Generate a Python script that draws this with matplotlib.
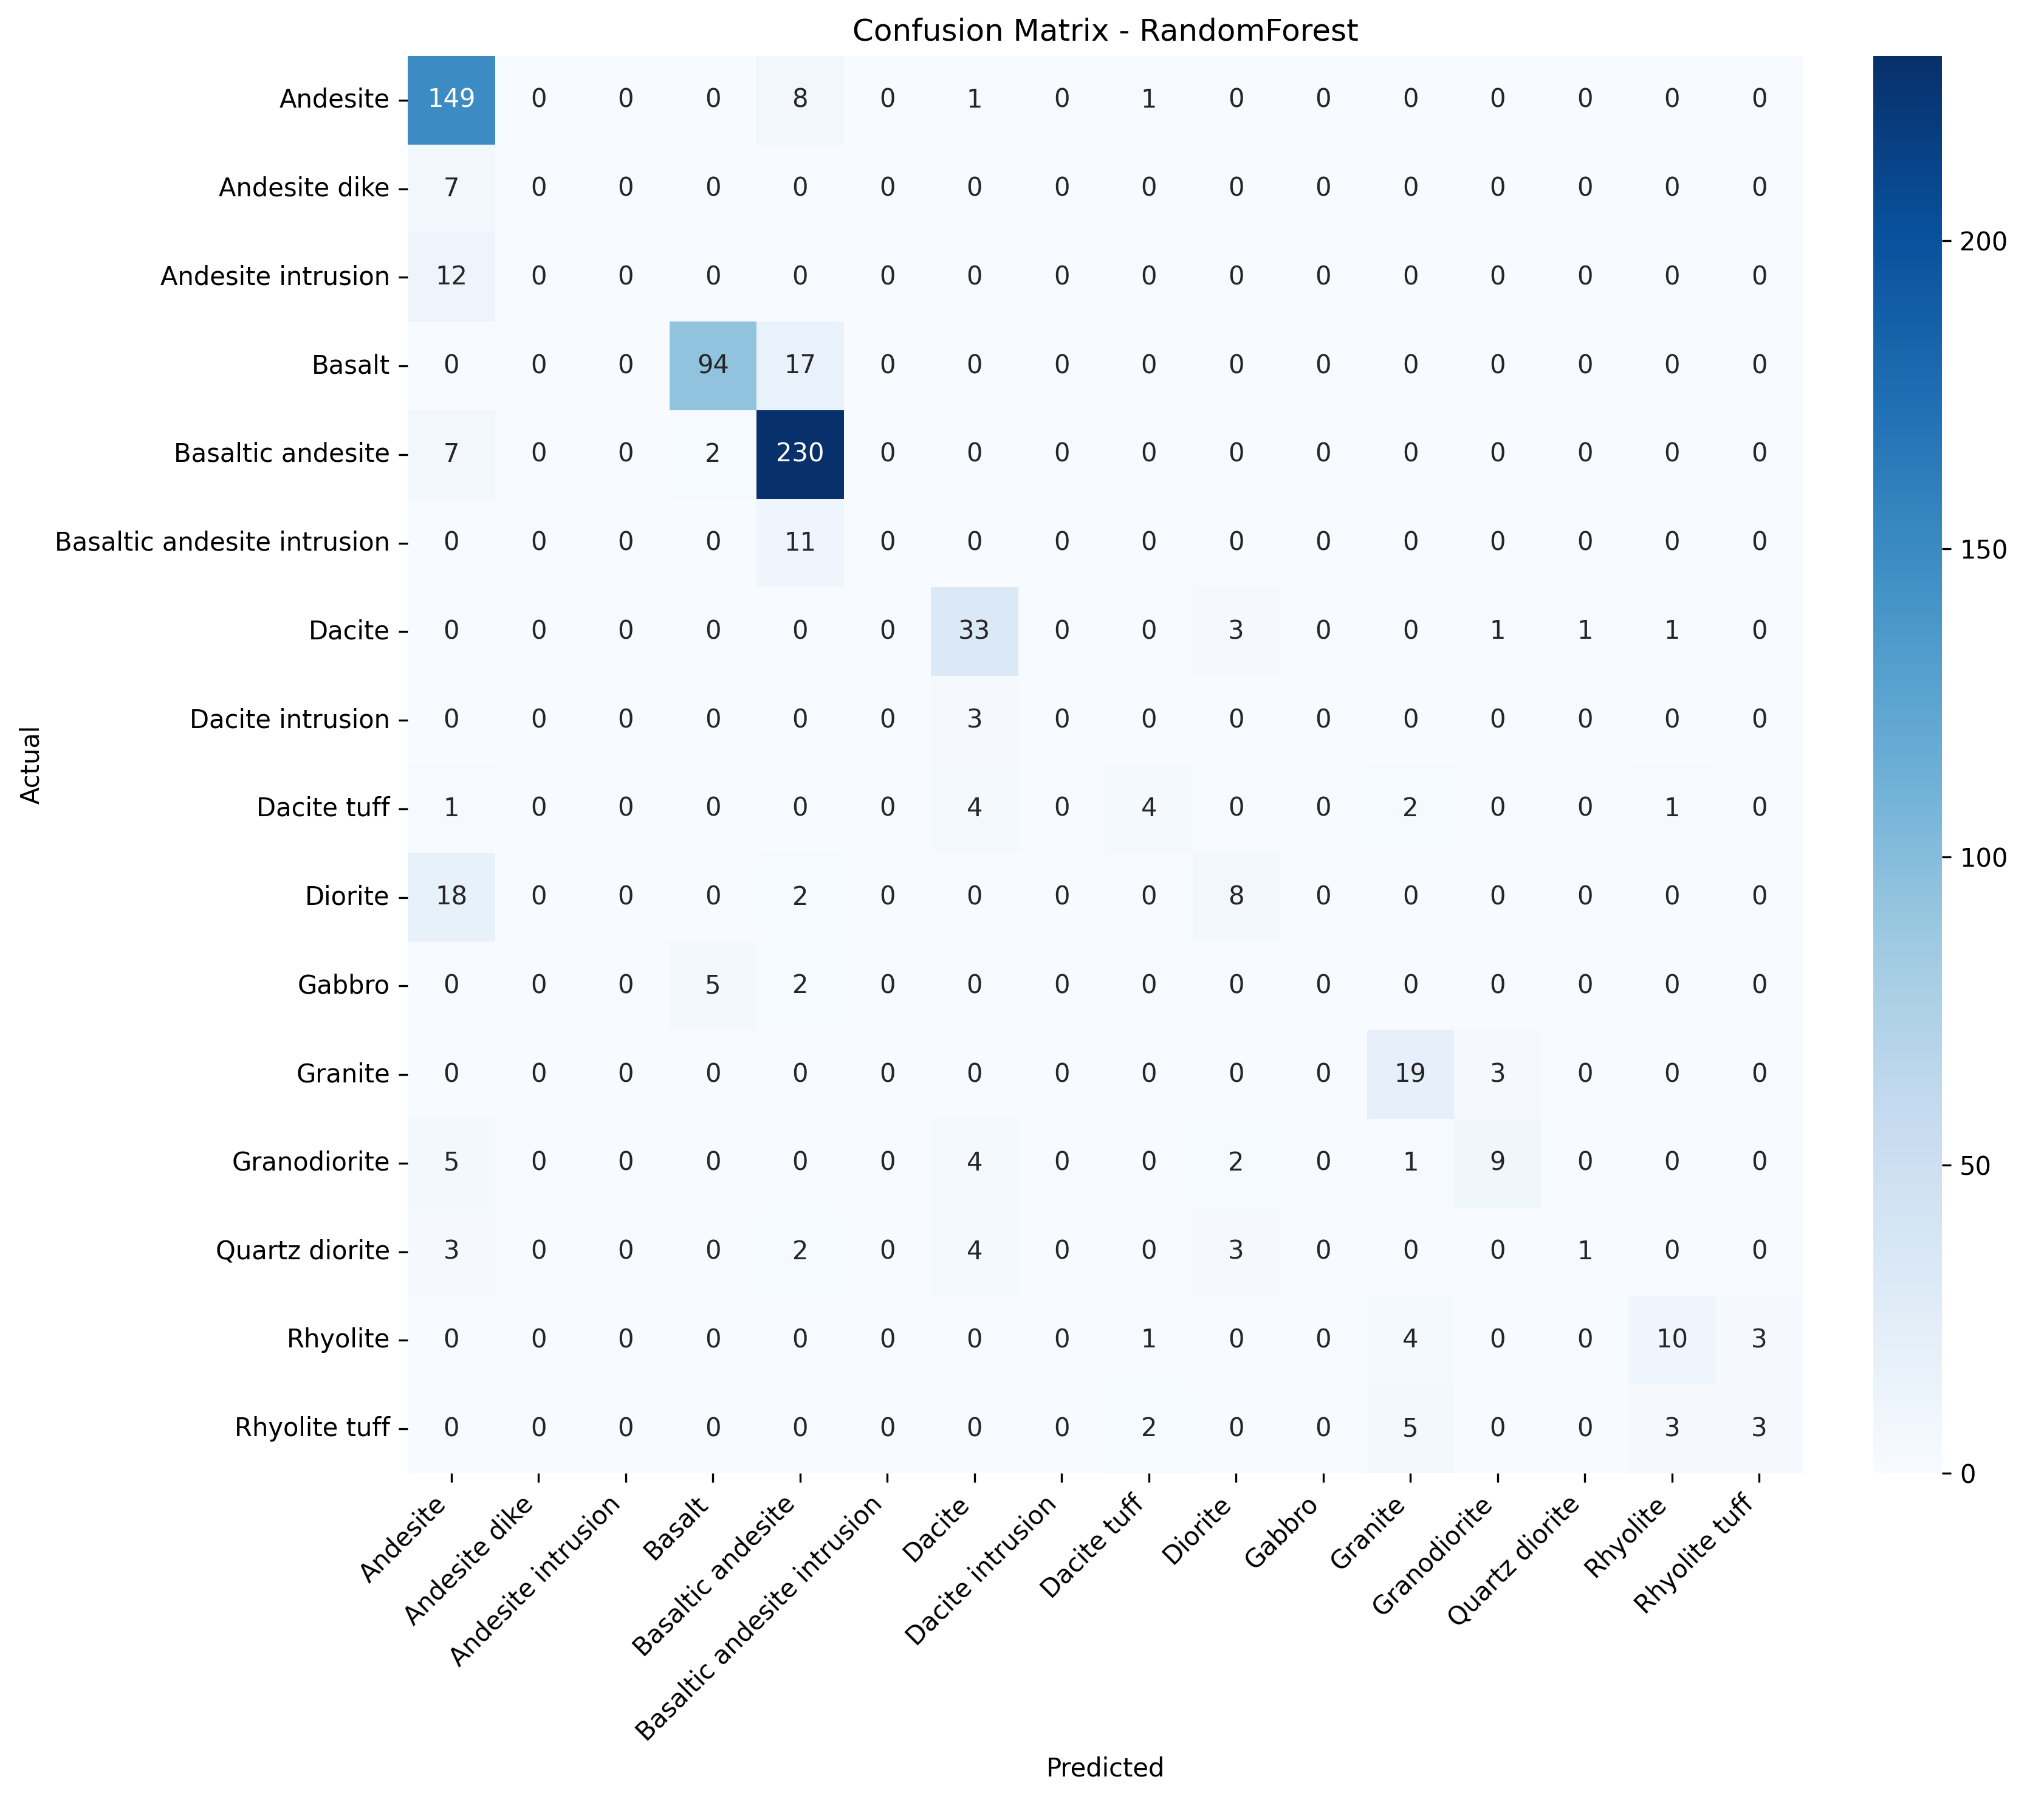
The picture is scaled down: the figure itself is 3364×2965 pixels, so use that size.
import numpy as np
import matplotlib
matplotlib.use("Agg")
import matplotlib.pyplot as plt
import seaborn as sns

labels = ["Andesite", "Andesite dike", "Andesite intrusion", "Basalt", "Basaltic andesite",
          "Basaltic andesite intrusion", "Dacite", "Dacite intrusion", "Dacite tuff", "Diorite",
          "Gabbro", "Granite", "Granodiorite", "Quartz diorite", "Rhyolite", "Rhyolite tuff"]

r_andesite = [149, 0, 0, 0, 8, 0, 1, 0, 1, 0, 0, 0, 0, 0, 0, 0]
r_andesite_dike = [7, 0, 0, 0, 0, 0, 0, 0, 0, 0, 0, 0, 0, 0, 0, 0]
r_andesite_intr = [12, 0, 0, 0, 0, 0, 0, 0, 0, 0, 0, 0, 0, 0, 0, 0]
r_basalt = [0, 0, 0, 94, 17, 0, 0, 0, 0, 0, 0, 0, 0, 0, 0, 0]
r_bas_andesite = [7, 0, 0, 2, 230, 0, 0, 0, 0, 0, 0, 0, 0, 0, 0, 0]
r_bas_andesite_intr = [0, 0, 0, 0, 11, 0, 0, 0, 0, 0, 0, 0, 0, 0, 0, 0]
r_dacite = [0, 0, 0, 0, 0, 0, 33, 0, 0, 3, 0, 0, 1, 1, 1, 0]
r_dacite_intr = [0, 0, 0, 0, 0, 0, 3, 0, 0, 0, 0, 0, 0, 0, 0, 0]
r_dacite_tuff = [1, 0, 0, 0, 0, 0, 4, 0, 4, 0, 0, 2, 0, 0, 1, 0]
r_diorite = [18, 0, 0, 0, 2, 0, 0, 0, 0, 8, 0, 0, 0, 0, 0, 0]
r_gabbro = [0, 0, 0, 5, 2, 0, 0, 0, 0, 0, 0, 0, 0, 0, 0, 0]
r_granite = [0, 0, 0, 0, 0, 0, 0, 0, 0, 0, 0, 19, 3, 0, 0, 0]
r_granodiorite = [5, 0, 0, 0, 0, 0, 4, 0, 0, 2, 0, 1, 9, 0, 0, 0]
r_qdiorite = [3, 0, 0, 0, 2, 0, 4, 0, 0, 3, 0, 0, 0, 1, 0, 0]
r_rhyolite = [0, 0, 0, 0, 0, 0, 0, 0, 1, 0, 0, 4, 0, 0, 10, 3]
r_rhyolite_tuff = [0, 0, 0, 0, 0, 0, 0, 0, 2, 0, 0, 5, 0, 0, 3, 3]

cm = np.array([r_andesite, r_andesite_dike, r_andesite_intr, r_basalt, r_bas_andesite,
               r_bas_andesite_intr, r_dacite, r_dacite_intr, r_dacite_tuff, r_diorite,
               r_gabbro, r_granite, r_granodiorite, r_qdiorite, r_rhyolite, r_rhyolite_tuff])

fig = plt.figure(figsize=(3364 / 300, 2965 / 300), dpi=300)
ax = fig.add_axes([0.1995, 0.1825, 0.6825, 0.7865])
cax = fig.add_axes([0.9165, 0.1825, 0.0335, 0.7865])

sns.heatmap(cm, annot=True, fmt="d", cmap="Blues", xticklabels=labels, yticklabels=labels,
            ax=ax, cbar_ax=cax, annot_kws={"fontsize": 10})
ax.set_title("Confusion Matrix - RandomForest", fontsize=12)
ax.set_xlabel("Predicted", fontsize=10)
ax.set_ylabel("Actual", fontsize=10)
ax.tick_params(axis="both", labelsize=10)
plt.setp(ax.get_xticklabels(), rotation=45, ha="right")
plt.setp(ax.get_yticklabels(), rotation=0)
cax.tick_params(labelsize=10)

fig.savefig("out.png", dpi=300)
